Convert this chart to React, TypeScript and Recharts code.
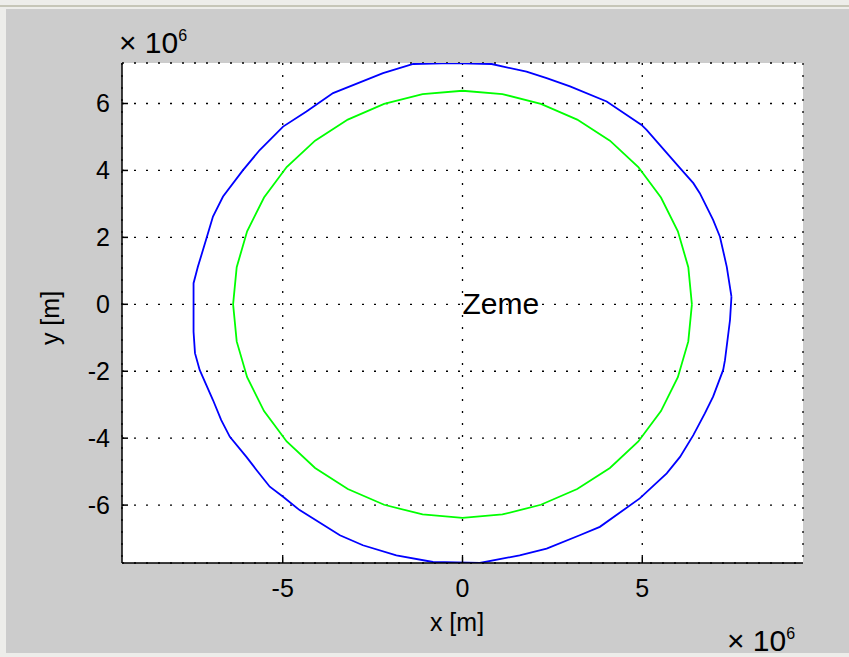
import React from 'react';
import { ComposedChart, Line, Scatter, XAxis, YAxis, CartesianGrid } from 'recharts';

// values in units of 1e6 m (as shown with the "x 10^6" multiplier)
const orbitX = [7.48, 7.35, 7.16, 6.97, 6.60, 6.42, 6.05, 5.12, 4.98, 4.01, 2.99, 2.34, 1.78, 0.81, -0.30, -1.37, -2.21, -3.60, -4.34, -4.99, -5.64, -6.11, -6.66, -6.94, -7.12, -7.36, -7.48, -7.48, -7.44, -7.31, -6.94, -6.71, -6.47, -6.01, -5.73, -5.36, -4.99, -4.53, -3.41, -2.77, -1.84, -0.82, 0.48, 1.59, 2.34, 3.26, 3.82, 4.93, 5.68, 6.05, 6.42, 6.74, 6.97, 7.25, 7.30, 7.44, 7.48];
const orbitY = [0.23, 1.12, 2.02, 2.52, 3.32, 3.62, 4.07, 5.21, 5.36, 6.06, 6.51, 6.76, 6.95, 7.18, 7.21, 7.18, 6.91, 6.31, 5.76, 5.31, 4.61, 4.00, 3.22, 2.62, 1.97, 1.12, 0.63, -0.82, -1.46, -1.96, -2.86, -3.46, -3.96, -4.56, -4.95, -5.45, -5.75, -6.15, -6.90, -7.20, -7.50, -7.70, -7.73, -7.50, -7.30, -6.90, -6.65, -5.80, -5.05, -4.56, -3.91, -3.26, -2.76, -1.96, -1.67, -0.47, 0.23];

const earthX = [6.38, 6.28, 5.99, 5.52, 4.89, 4.10, 3.19, 2.18, 1.11, 0, -1.11, -2.18, -3.19, -4.10, -4.89, -5.52, -5.99, -6.28, -6.38, -6.28, -5.99, -5.52, -4.89, -4.10, -3.19, -2.18, -1.11, 0, 1.11, 2.18, 3.19, 4.10, 4.89, 5.52, 5.99, 6.28, 6.38];
const earthY = [0, 1.11, 2.18, 3.19, 4.10, 4.89, 5.52, 5.99, 6.28, 6.38, 6.28, 5.99, 5.52, 4.89, 4.10, 3.19, 2.18, 1.11, 0, -1.11, -2.18, -3.19, -4.10, -4.89, -5.52, -5.99, -6.28, -6.38, -6.28, -5.99, -5.52, -4.89, -4.10, -3.19, -2.18, -1.11, 0];

const xTicks = [-5, 0, 5];
const yTicks = [-6, -4, -2, 0, 2, 4, 6];
const xDomain: [number, number] = [-9.47, 9.47];
const yDomain: [number, number] = [-7.73, 7.21];
const textPoints = [{ x: 0, y: 0, name: 'Zeme' }];

const orbit = orbitX.map((x, i) => ({ x, y: orbitY[i] }));
const earth = earthX.map((x, i) => ({ x, y: earthY[i] }));

const FONT = '"Liberation Sans", Arial, Helvetica, sans-serif';
const TICK_LEN = 6;
const TICK_FS = 25;

const BottomTick = (p: any) => (
  <g>
    <line x1={p.x} x2={p.x} y1={p.y} y2={p.y - TICK_LEN} stroke="#000" strokeWidth={1.5} />
    <text x={p.x} y={p.y + 34} textAnchor="middle" fontSize={TICK_FS} fontFamily={FONT} fill="#000">
      {String(p.payload.value)}
    </text>
  </g>
);
const TopTick = (p: any) => (
  <line x1={p.x} x2={p.x} y1={p.y} y2={p.y + TICK_LEN} stroke="#000" strokeWidth={1.5} />
);
const LeftTick = (p: any) => (
  <g>
    <line x1={p.x} x2={p.x + TICK_LEN} y1={p.y} y2={p.y} stroke="#000" strokeWidth={1.5} />
    <text x={p.x - 12} y={p.y + 9} textAnchor="end" fontSize={TICK_FS} fontFamily={FONT} fill="#000">
      {String(p.payload.value)}
    </text>
  </g>
);
const RightTick = (p: any) => (
  <line x1={p.x} x2={p.x - TICK_LEN} y1={p.y} y2={p.y} stroke="#000" strokeWidth={1.5} />
);

const TextShape = (p: any) => (
  <text x={p.cx} y={p.cy + 10} fontSize={30} fontFamily={FONT} fill="#000">
    {p.payload.name}
  </text>
);

const abs = (s: React.CSSProperties): React.CSSProperties => ({ position: 'absolute', fontFamily: FONT, color: '#000', lineHeight: 1, whiteSpace: 'nowrap', ...s });

export default function App() {
  return (
    <div style={{ position: 'absolute', left: 0, top: 0, width: 849, height: 657, background: '#ededea', overflow: 'hidden' }}>
      <div style={{ position: 'absolute', left: 0, top: 5, width: 849, height: 2, background: '#c6c6b8' }} />
      <div style={{ position: 'absolute', left: 6, top: 9, width: 843, height: 644, background: '#cccccc' }} />
      <div style={{ position: 'absolute', left: 0, top: 0 }}>
        <ComposedChart width={849} height={657} margin={{ top: 63, right: 46, bottom: 34, left: 62 }}>
          <CartesianGrid fill="#ffffff" stroke="#000" strokeDasharray="2 10" strokeWidth={1.3} />
          <XAxis
            xAxisId={0}
            type="number"
            dataKey="x"
            domain={xDomain}
            ticks={xTicks}
            allowDataOverflow
            height={60}
            tickSize={0}
            tickMargin={0}
            tickLine={false}
            axisLine={{ stroke: '#000', strokeWidth: 1.5 }}
            tick={BottomTick}
            interval={0}
          />
          <XAxis
            xAxisId="top"
            orientation="top"
            type="number"
            domain={xDomain}
            ticks={xTicks}
            allowDataOverflow
            height={0}
            tickSize={0}
            tickMargin={0}
            tickLine={false}
            axisLine={{ stroke: '#000', strokeWidth: 1.5 }}
            tick={TopTick}
            interval={0}
          />
          <YAxis
            yAxisId={0}
            type="number"
            dataKey="y"
            domain={yDomain}
            ticks={yTicks}
            allowDataOverflow
            width={60}
            tickSize={0}
            tickMargin={0}
            tickLine={false}
            axisLine={{ stroke: '#000', strokeWidth: 1.5 }}
            tick={LeftTick}
            interval={0}
          />
          <YAxis
            yAxisId="right"
            orientation="right"
            type="number"
            domain={yDomain}
            ticks={yTicks}
            allowDataOverflow
            width={0}
            tickSize={0}
            tickMargin={0}
            tickLine={false}
            axisLine={{ stroke: '#000', strokeWidth: 1.5 }}
            tick={RightTick}
            interval={0}
          />
          <Line data={earth} dataKey="y" type="linear" stroke="#00ff00" strokeWidth={1.8} dot={false} activeDot={false} isAnimationActive={false} />
          <Line data={orbit} dataKey="y" type="linear" stroke="#0000ff" strokeWidth={1.8} dot={false} activeDot={false} isAnimationActive={false} />
          <Scatter data={textPoints} dataKey="y" shape={TextShape} isAnimationActive={false} />
        </ComposedChart>
      </div>
      <div style={abs({ left: 119, top: 28, fontSize: 30 })}>
        × 10<span style={{ fontSize: 16, position: 'relative', top: -12 }}>6</span>
      </div>
      <div style={abs({ left: 727, top: 626, fontSize: 30 })}>
        × 10<span style={{ fontSize: 16, position: 'relative', top: -12 }}>6</span>
      </div>
      <div style={abs({ left: 457, top: 610, fontSize: 25, transform: 'translateX(-50%)' })}>x [m]</div>
      <div style={abs({ left: 50, top: 318, fontSize: 25, transform: 'translate(-50%, -50%) rotate(-90deg)' })}>y [m]</div>
    </div>
  );
}
